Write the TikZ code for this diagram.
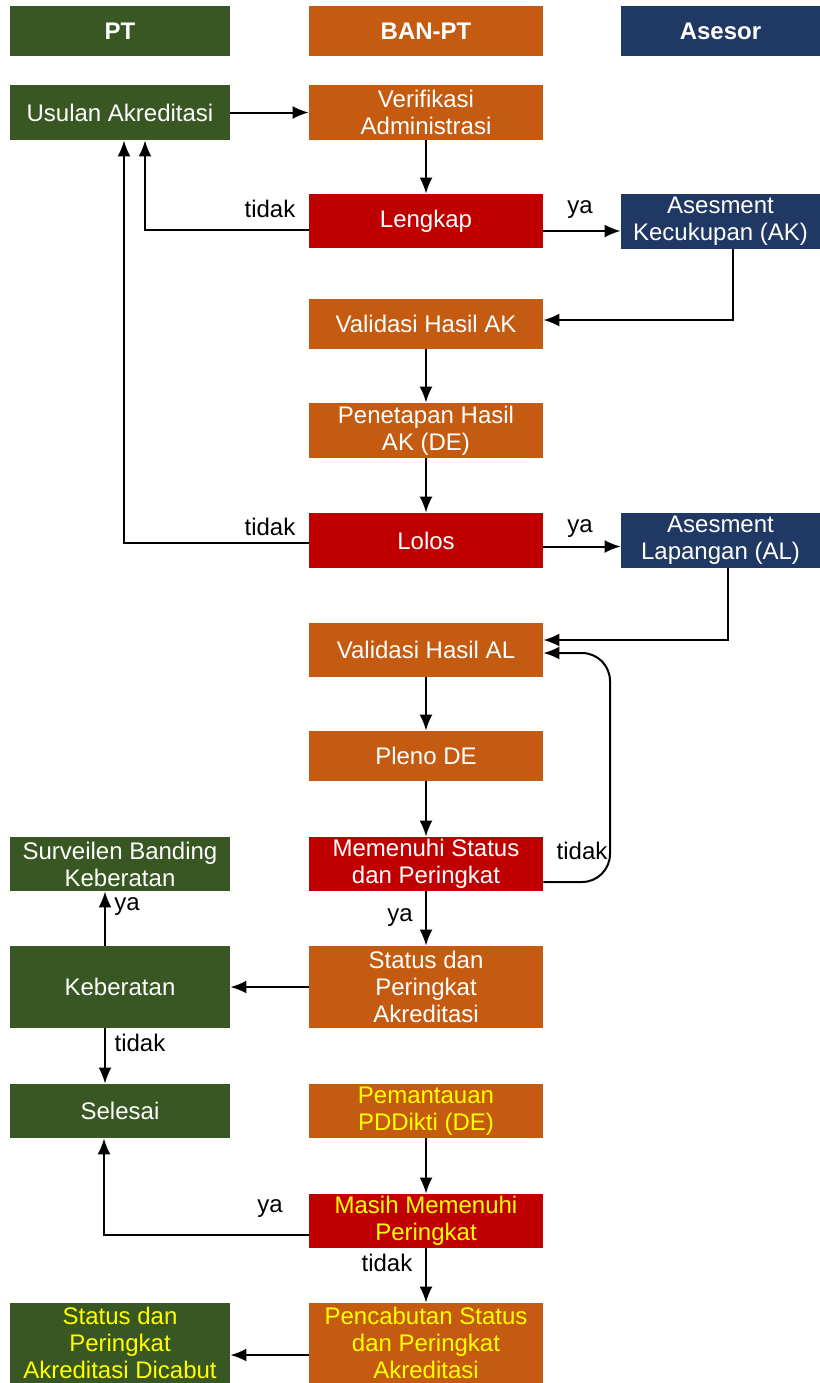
\documentclass[tikz,border=0pt]{standalone}
\usepackage{fontspec}
\setmainfont{Liberation Sans}
\usepackage{tikz}
\usetikzlibrary{arrows.meta,positioning,calc}

\definecolor{ptgreen}{HTML}{385723}
\definecolor{banorange}{HTML}{C55A11}
\definecolor{asblue}{HTML}{203864}
\definecolor{decred}{HTML}{C00000}
\definecolor{hiyellow}{HTML}{FFFF00}

\begin{document}
\begin{tikzpicture}[
  x=0.5pt, y=-0.5pt,
  font=\fontsize{12}{13.5}\selectfont,
  box/.style    = {align=center, inner sep=1pt, text=white, minimum height=27.5pt},
  ptbox/.style  = {box, fill=ptgreen, minimum width=110pt},
  banbox/.style = {box, fill=banorange, minimum width=117pt},
  asbox/.style  = {box, fill=asblue, minimum width=99.5pt},
  decbox/.style = {box, fill=decred, minimum width=117pt},
  head/.style   = {font=\fontsize{12}{13.5}\selectfont\bfseries, minimum height=25pt},
  hl/.style     = {text=hiyellow},
  ar/.style     = {-{Latex[length=8pt, width=6.5pt]}, line width=1pt, black},
  lbl/.style    = {inner sep=1pt, text=black},
]
\useasboundingbox (0,0) rectangle (820,1383);

% ----------------------------- lanes ---------------------------------------
\node[ptbox, head]  (hpt)  at (120,31)   {PT};
\node[banbox, head] (hban) at (426,31)   {BAN-PT};
\node[asbox, head]  (has)  at (720.5,31) {Asesor};

% ----------------------------- pengajuan -----------------------------------
\node[ptbox]  (usulan) at (120,112.5) {Usulan Akreditasi};
\node[banbox] (verif)  at (426,112.5) {Verifikasi\\Administrasi};
\node[decbox, minimum height=27pt] (lengkap) at (426,221) {Lengkap};
\node[asbox]  (ak)     at (720.5,221.5) {Asesment\\Kecukupan (AK)};

% ----------------------------- asesmen kecukupan ---------------------------
\node[banbox, minimum height=25pt] (valak) at (426,324)   {Validasi Hasil AK};
\node[banbox] (penak) at (426,430.5) {Penetapan Hasil\\AK (DE)};
\node[decbox] (lolos) at (426,540.5) {Lolos};
\node[asbox]  (al)    at (720.5,540.5) {Asesment\\Lapangan (AL)};

% ----------------------------- asesmen lapangan ----------------------------
\node[banbox, minimum height=27pt] (valal) at (426,650) {Validasi Hasil AL};
\node[banbox, minimum height=25pt] (pleno) at (426,756) {Pleno DE};
\node[decbox, minimum height=27pt] (memenuhi) at (426,864) {Memenuhi Status\\dan Peringkat};
\node[ptbox, minimum height=27pt] (surveilen) at (120,864) {Surveilen Banding\\Keberatan};
\node[banbox, minimum height=41pt] (status) at (426,987) {Status dan\\Peringkat\\Akreditasi};
\node[ptbox, minimum height=41pt] (keberatan) at (120,987) {Keberatan};
\node[ptbox, minimum height=27pt] (selesai) at (120,1111) {Selesai};

% ----------------------------- pemantauan ----------------------------------
\node[banbox, hl, minimum height=27pt] (pemantauan) at (426,1111) {Pemantauan\\PDDikti (DE)};
\node[decbox, hl, minimum height=27pt] (masih) at (426,1221) {Masih Memenuhi\\Peringkat};
\node[banbox, hl, minimum height=40pt] (cabut) at (426,1343) {Pencabutan Status\\dan Peringkat\\Akreditasi};
\node[ptbox, hl, minimum height=40pt] (dicabut) at (120,1343) {Status dan\\Peringkat\\Akreditasi Dicabut};

% ----------------------------- connectors ----------------------------------
\draw[ar] (usulan) -- (verif);
\draw[ar] (verif) -- (lengkap);
\draw[ar] ([yshift=-4.5pt]lengkap.west) -| ([xshift=12.5pt]usulan.south);
\draw[ar] ([yshift=-5pt]lengkap.east) -- ([yshift=-5pt]lengkap.east -| ak.west);
\draw[ar] ([xshift=6pt]ak.south) |- ([yshift=2pt]valak.east);
\draw[ar] (valak) -- (penak);
\draw[ar] (penak) -- (lolos);
\draw[ar] ([yshift=-1pt]lolos.west) -| ([xshift=2pt]usulan.south);
\draw[ar] ([yshift=-3pt]lolos.east) -- ([yshift=-3pt]al.west);
\draw[ar] ([xshift=3.5pt]al.south) |- ([yshift=5pt]valal.east);
\draw[ar] (valal) -- (pleno);
\draw[ar] (pleno) -- (memenuhi);
\coordinate (loopR) at (610,653);
\draw[ar, rounded corners=14pt] ([yshift=-9pt]memenuhi.east) -| (loopR)
  -- ([yshift=-1.5pt]valal.east);
\draw[ar] (memenuhi) -- (status);
\draw[ar] (status) -- (keberatan);
\draw[ar] ([xshift=-7.5pt]keberatan.north) -- ([xshift=-7.5pt]surveilen.south);
\draw[ar] ([xshift=-7.5pt]keberatan.south) -- ([xshift=-7.5pt]selesai.north);
\draw[ar] (pemantauan) -- (masih);
\draw[ar] ([yshift=-7pt]masih.west) -| ([xshift=-8pt]selesai.south);
\draw[ar] (masih) -- (cabut);
\draw[ar] ([yshift=-6pt]cabut.west) -- ([yshift=-6pt]dicabut.east);

% ----------------------------- labels --------------------------------------
\node[lbl] (l1)  at (270,209)  {tidak};
\node[lbl] (l2)  at (580,210)  {ya};
\node[lbl] (l3)  at (270,527)  {tidak};
\node[lbl] (l4)  at (580,529)  {ya};
\node[lbl] (l5)  at (582,851)  {tidak};
\node[lbl] (l6)  at (400,918)  {ya};
\node[lbl] (l7)  at (127,907)  {ya};
\node[lbl] (l8)  at (140,1043) {tidak};
\node[lbl] (l9)  at (270,1209) {ya};
\node[lbl] (l10) at (387,1263) {tidak};

\end{tikzpicture}
\end{document}
